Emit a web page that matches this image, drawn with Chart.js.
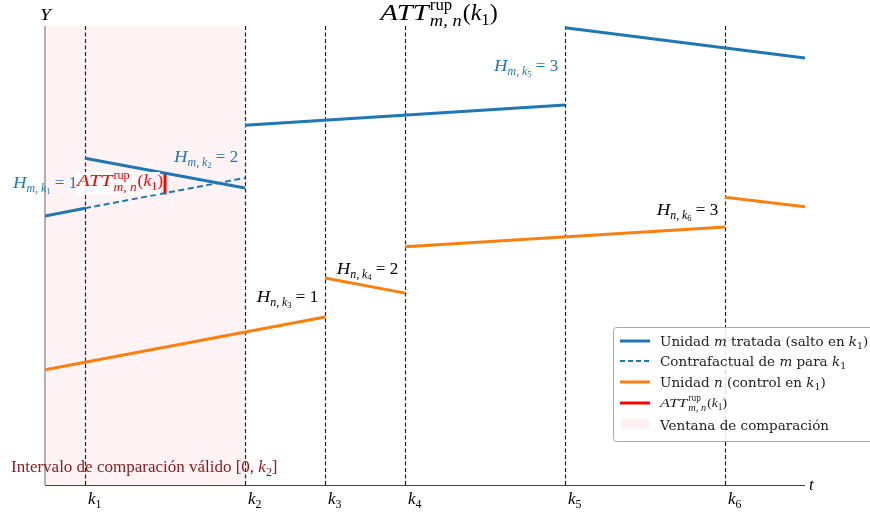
<!DOCTYPE html>
<html>
<head>
<meta charset="utf-8">
<script src="https://cdn.jsdelivr.net/npm/chart.js@4.4.1/dist/chart.umd.min.js"></script>
<style>
  html, body { margin: 0; padding: 0; background: #fff; }
  #wrap { width: 870px; height: 512px; }
</style>
</head>
<body>
<div id="wrap"><canvas id="attChart" width="870" height="512"></canvas></div>
<script>
// Event times k1..k6 and end of the time axis
const kPositions = [1, 5, 7, 9, 13, 17];
const kSubs = ['1', '2', '3', '4', '5', '6'];
const tMax = 19;

// Treated unit m: piecewise segments (jump at each k)
const treatedSegX = [[0, 1], [1, 5], [5, 13], [13, 19]];
const treatedSegY = [[5.86, 6.03], [7.12, 6.47], [7.84, 8.28], [9.96, 9.30]];

// Counterfactual of m for k1
const counterX = [1, 5];
const counterY = [6.03, 6.69];

// Control unit n
const controlSegX = [[0, 7], [7, 9], [9, 17], [17, 19]];
const controlSegY = [[2.51, 3.66], [4.51, 4.18], [5.19, 5.62], [6.27, 6.06]];

// ATT bracket at t = 3
const attX = 3;
const attY = [6.33, 6.82];

// Comparison window [0, k2]
const windowRange = [0, 5];

const BLUE = '#1f77b4';
const ORANGE = '#ff7f0e';
const RED = '#ff0000';

function segDataset(xs, ys, color, dash) {
    return {
        data: xs.map((x, i) => ({ x: x, y: ys[i] })),
        showLine: true,
        borderColor: color,
        borderWidth: 3,
        borderDash: dash || [],
        pointRadius: 0,
        borderCapStyle: 'butt'
    };
}

const datasets = [];
treatedSegX.forEach((xs, i) => datasets.push(segDataset(xs, treatedSegY[i], BLUE)));
datasets.push(Object.assign(segDataset(counterX, counterY, BLUE, [6, 3.5]), { borderWidth: 2 }));
controlSegX.forEach((xs, i) => datasets.push(segDataset(xs, controlSegY[i], ORANGE)));
datasets.push(segDataset([attX, attX], attY, RED));

// Rich text helper (italic math, subscripts, stacked sup/sub)
function partSize(p, size) {
    if (p.lv === 1) return size * 0.7;
    if (p.lv === 2) return size * 0.5;
    return size;
}
function partShift(p, size) {
    if (p.lv === 1) return size * 0.22;
    if (p.lv === 2) return size * 0.36;
    return 0;
}
// draws (or only measures) a run, optionally stretched horizontally
function run(ctx, text, x, y, font, sx, draw) {
    ctx.font = font;
    const w = ctx.measureText(text).width * sx;
    if (draw) {
        ctx.save();
        ctx.translate(x, y);
        ctx.scale(sx, 1);
        ctx.fillText(text, 0, 0);
        ctx.restore();
    }
    return w;
}
function layoutRich(ctx, parts, size, family, x, y, draw) {
    let cx = x;
    parts.forEach(p => {
        if (p.stack) {
            const s = size * 0.7;
            const a = run(ctx, p.sup, cx + 1, y - size * 0.42, s + 'px ' + family, 1, draw);
            const b = run(ctx, p.sub, cx + 1, y + size * 0.27, 'italic ' + s + 'px ' + family, 1.1, draw);
            cx += Math.max(a, b) + 2;
        } else {
            const s = partSize(p, size);
            const font = (p.i ? 'italic ' : '') + s + 'px ' + family;
            cx += run(ctx, p.t, cx, y + partShift(p, size), font, p.sx || 1, draw);
        }
    });
    return cx - x;
}
function drawRich(ctx, x, y, parts, size, color, align, family) {
    family = family || '"Liberation Serif", "DejaVu Serif", serif';
    const w = layoutRich(ctx, parts, size, family, 0, 0, false);
    let cx = x;
    if (align === 'right') cx = x - w;
    else if (align === 'center') cx = x - w / 2;
    ctx.save();
    ctx.fillStyle = color;
    ctx.textBaseline = 'alphabetic';
    ctx.textAlign = 'left';
    layoutRich(ctx, parts, size, family, cx, y, true);
    ctx.restore();
    return w;
}

const attParts = [{ t: 'ATT', i: true, sx: 1.2 }, { stack: true, sup: 'rup', sub: 'm, n' }, { t: '(' }, { t: 'k', i: true }, { t: '1', lv: 1 }, { t: ')' }];
function hParts(u, k, v) {
    return [{ t: 'H', i: true, sx: 1.1 }, { t: u + ', k', i: true, lv: 1 }, { t: k, lv: 2 }, { t: ' = ' + v }];
}

const decorPlugin = {
    id: 'decor',
    beforeDatasetsDraw(chart) {
        const ctx = chart.ctx;
        const a = chart.chartArea;
        const xs = chart.scales.x;
        ctx.save();
        // comparison window shading
        ctx.fillStyle = 'rgba(255, 182, 193, 0.16)';
        const x0 = xs.getPixelForValue(windowRange[0]);
        const x1 = xs.getPixelForValue(windowRange[1]);
        ctx.fillRect(x0, a.top, x1 - x0, a.bottom - a.top);
        // vertical dashed lines at k
        ctx.strokeStyle = '#222';
        ctx.lineWidth = 1.2;
        ctx.setLineDash([4, 2.5]);
        kPositions.forEach(k => {
            const px = Math.round(xs.getPixelForValue(k)) + 0.5;
            ctx.beginPath();
            ctx.moveTo(px, a.top);
            ctx.lineTo(px, a.bottom);
            ctx.stroke();
        });
        ctx.setLineDash([]);
        // spines
        ctx.strokeStyle = '#999';
        ctx.lineWidth = 1.5;
        ctx.beginPath();
        ctx.moveTo(a.left, a.top);
        ctx.lineTo(a.left, a.bottom);
        ctx.stroke();
        ctx.strokeStyle = '#444';
        ctx.lineWidth = 1.2;
        ctx.beginPath();
        ctx.moveTo(a.left, a.bottom + 0.5);
        ctx.lineTo(a.right, a.bottom + 0.5);
        ctx.stroke();
        ctx.restore();
    },
    afterDatasetsDraw(chart) {
        const ctx = chart.ctx;
        const a = chart.chartArea;
        const xs = chart.scales.x;
        const ys = chart.scales.y;
        const X = v => xs.getPixelForValue(v);
        const Y = v => ys.getPixelForValue(v);

        // axis names and tick labels
        drawRich(ctx, a.left - 5, 20, [{ t: 'Y', i: true, sx: 1.15 }], 17, '#000', 'left');
        drawRich(ctx, a.right + 4, a.bottom + 5, [{ t: 't', i: true }], 17, '#000', 'left');
        kPositions.forEach((k, i) => {
            drawRich(ctx, X(k) + 3, a.bottom + 19, [{ t: 'k', i: true }, { t: kSubs[i], lv: 1 }], 17, '#000', 'left');
        });

        // title
        drawRich(ctx, 439, 20, attParts, 24, '#000', 'center');

        // H labels of the treated unit
        drawRich(ctx, X(-0.8), Y(6.47), hParts('m', '1', '1'), 17, BLUE, 'left');
        // red ATT label with white box
        ctx.save();
        ctx.fillStyle = 'rgba(255,255,255,0.9)';
        ctx.fillRect(X(0.78), Y(6.82), X(2.88) - X(0.78), Y(6.33) - Y(6.82));
        ctx.restore();
        drawRich(ctx, X(0.8), Y(6.51), attParts, 17.5, RED, 'left');

        drawRich(ctx, X(4.83), Y(7.04), hParts('m', '2', '2'), 17, BLUE, 'right');
        drawRich(ctx, X(12.83), Y(9.02), hParts('m', '5', '3'), 17, BLUE, 'right');
        // H labels of the control unit
        drawRich(ctx, X(6.83), Y(3.99), hParts('n', '3', '1'), 17, '#000', 'right');
        drawRich(ctx, X(8.83), Y(4.60), hParts('n', '4', '2'), 17, '#000', 'right');
        drawRich(ctx, X(16.83), Y(5.88), hParts('n', '6', '3'), 17, '#000', 'right');

        // window annotation
        drawRich(ctx, 11, 472, [{ t: 'Intervalo de comparación válido [0, ' }, { t: 'k', i: true }, { t: '2', lv: 1 }, { t: ']' }], 17, '#8b1a1a', 'left');

        // legend
        const lx = 613, ly = 327, lw = 270, lh = 114;
        ctx.save();
        ctx.fillStyle = 'rgba(255,255,255,0.85)';
        ctx.strokeStyle = '#aaa';
        ctx.lineWidth = 1;
        ctx.beginPath();
        ctx.roundRect(lx + 0.5, ly + 0.5, lw, lh, 3);
        ctx.fill();
        ctx.stroke();
        const fam = '"DejaVu Serif", serif';
        const rows = [
            { c: BLUE, dash: [], y: 341, parts: [{ t: 'Unidad ' }, { t: 'm', i: true }, { t: ' tratada (salto en ' }, { t: 'k', i: true }, { t: '1', lv: 1 }, { t: ')' }] },
            { c: BLUE, dash: [5, 3], w: 2, y: 361, parts: [{ t: 'Contrafactual de ' }, { t: 'm', i: true }, { t: ' para ' }, { t: 'k', i: true }, { t: '1', lv: 1 }] },
            { c: ORANGE, dash: [], y: 382, parts: [{ t: 'Unidad ' }, { t: 'n', i: true }, { t: ' (control en ' }, { t: 'k', i: true }, { t: '1', lv: 1 }, { t: ')' }] },
            { c: RED, dash: [], y: 403, parts: attParts, math: true },
            { patch: true, y: 425, parts: [{ t: 'Ventana de comparación' }] }
        ];
        rows.forEach(r => {
            if (r.patch) {
                ctx.fillStyle = 'rgba(255, 182, 193, 0.2)';
                ctx.fillRect(621, r.y - 6, 28, 10);
            } else {
                ctx.strokeStyle = r.c;
                ctx.lineWidth = r.w || 3;
                ctx.setLineDash(r.dash);
                ctx.beginPath();
                ctx.moveTo(620, r.y);
                ctx.lineTo(650, r.y);
                ctx.stroke();
                ctx.setLineDash([]);
            }
            if (r.math) drawRich(ctx, 660, r.y + 4, r.parts, 13.5, '#222', 'left');
            else drawRich(ctx, 660, r.y + 5, r.parts, 13.5, '#222', 'left', fam);
        });
        ctx.restore();
    }
};

new Chart(document.getElementById('attChart'), {
    type: 'scatter',
    data: { datasets: datasets },
    options: {
        responsive: false,
        animation: false,
        layout: { padding: { left: 45, right: 65, top: 26, bottom: 27 } },
        plugins: { legend: { display: false }, tooltip: { enabled: false } },
        scales: {
            x: { type: 'linear', min: 0, max: tMax, display: false },
            y: { type: 'linear', min: 0, max: 10, display: false }
        }
    },
    plugins: [decorPlugin]
});
</script>
</body>
</html>
